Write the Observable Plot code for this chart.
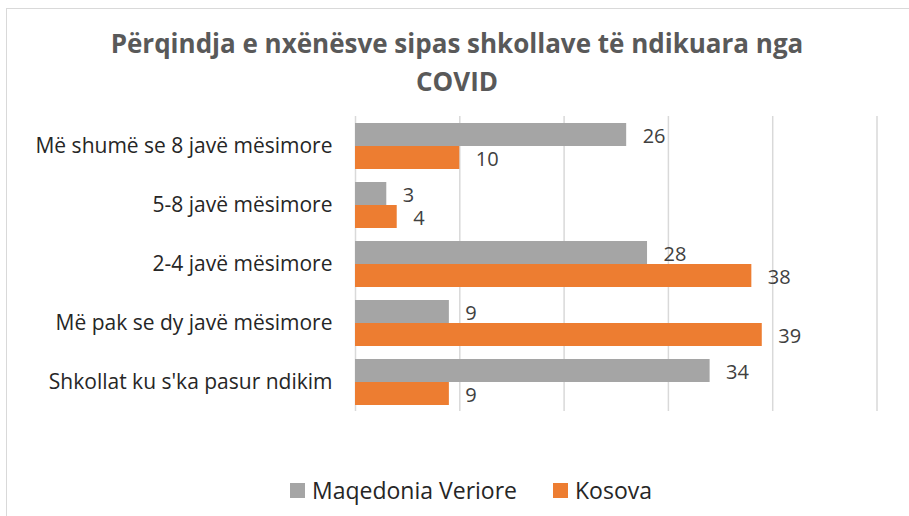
<!DOCTYPE html>
<html>
<head>
<meta charset="utf-8">
<script src="https://cdn.jsdelivr.net/npm/d3@7"></script>
<script src="https://cdn.jsdelivr.net/npm/@observablehq/plot@0.6"></script>
<style>
  html, body { margin: 0; padding: 0; background: #fff; overflow: hidden; }
  #wrap { position: relative; width: 909px; height: 516px; overflow: hidden; font-family: 'Open Sans', sans-serif; }
  #frame { position: absolute; left: 6px; top: 8px; width: 940px; height: 560px; border: 1.5px solid #d9d9d9; box-sizing: border-box; }
  #title { position: absolute; left: 7px; width: 900px; top: 24px; text-align: center; font-weight: 700; font-size: 26px; line-height: 38px; color: #595959; white-space: pre-line; }
  #chart { position: absolute; left: 0; top: 100px; }
  #legend { position: absolute; left: 290px; top: 479px; display: flex; align-items: center; font-size: 23px; line-height: 23px; color: #262626; }
  .item { display: flex; align-items: center; margin-right: 36px; }
  .sw { width: 15px; height: 15px; margin-right: 7px; }
</style>
</head>
<body>
<div id="wrap">
  <div id="frame"></div>
  <div id="title"></div>
  <div id="chart"></div>
  <div id="legend"></div>
</div>
<script>
const titleLines = ["Përqindja e nxënësve sipas shkollave të ndikuara nga", "COVID"];
const categories = [
  "Më shumë se 8 javë mësimore",
  "5-8 javë mësimore",
  "2-4 javë mësimore",
  "Më pak se dy javë mësimore",
  "Shkollat ku s'ka pasur ndikim"
];
const series = ["Maqedonia Veriore", "Kosova"];
const maqedoniaValues = [26, 3, 28, 9, 34];
const kosovaValues = [10, 4, 38, 39, 9];
const xTicks = [0, 10, 20, 30, 40, 50];
const colors = ["#A5A5A5", "#ED7D31"];

const data = categories.flatMap((c, i) => [
  {category: c, series: series[0], value: maqedoniaValues[i]},
  {category: c, series: series[1], value: kosovaValues[i]}
]);

document.getElementById("title").textContent = titleLines.join("\n");

const chart = Plot.plot({
  width: 909,
  height: 320,
  marginLeft: 355,
  marginRight: 32.5,
  marginTop: 14,
  marginBottom: 8,
  style: {fontFamily: "'Open Sans', sans-serif", background: "transparent", color: "#262626", overflow: "visible"},
  x: {domain: [0, 50], axis: null},
  y: {domain: series, axis: null, paddingInner: 0, paddingOuter: 0.27},
  fy: {domain: categories, padding: 0, label: null},
  color: {domain: series, range: colors},
  marks: [
    Plot.gridX(xTicks, {stroke: "#d9d9d9", strokeOpacity: 1, strokeWidth: 1.5}),
    Plot.barX(data, {x: "value", y: "series", fy: "category", fill: "series"}),
    Plot.text(data, {x: "value", y: "series", fy: "category", text: d => String(d.value), textAnchor: "start", dx: 16, dy: 2, fontSize: 20, fill: "#404040"}),
    Plot.axisFy({anchor: "left", tickSize: 0, tickPadding: 23, fontSize: 21, fill: "#262626", label: null})
  ]
});
document.getElementById("chart").appendChild(chart);

const legend = document.getElementById("legend");
series.forEach((s, i) => {
  const item = document.createElement("div");
  item.className = "item";
  const sw = document.createElement("div");
  sw.className = "sw";
  sw.style.background = colors[i];
  const label = document.createElement("span");
  label.textContent = s;
  item.appendChild(sw);
  item.appendChild(label);
  legend.appendChild(item);
});
</script>
</body>
</html>
